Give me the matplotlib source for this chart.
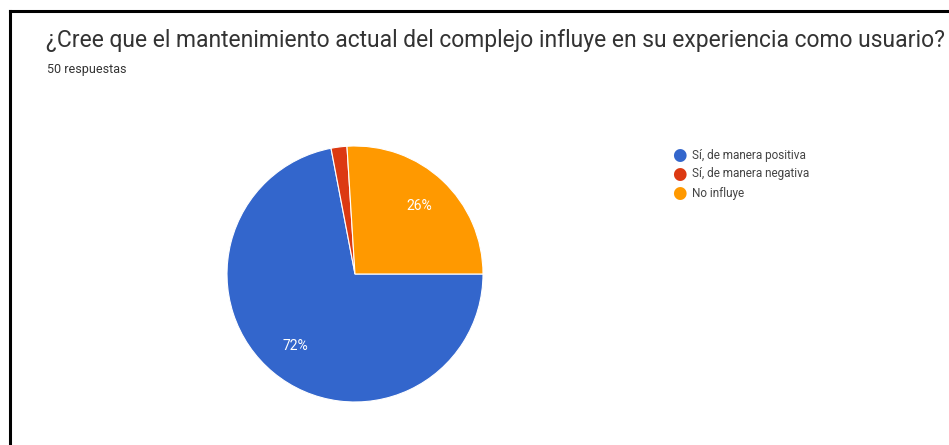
import matplotlib.pyplot as plt
from matplotlib.lines import Line2D

plt.rcParams['font.family'] = ['Roboto', 'DejaVu Sans']

# survey answers (50 responses)
labels = ['Sí, de manera positiva', 'Sí, de manera negativa', 'No influye']
counts = [36, 1, 13]
colors = ['#3366cc', '#dc3912', '#ff9900']

title = '¿Cree que el mantenimiento actual del complejo influye en su experiencia como usuario?'
subtitle = '50 respuestas'

W, H = 949, 445
fig = plt.figure(figsize=(W / 100, H / 100), dpi=100)
fig.patch.set_facecolor('white')

# frame lines (left and top)
fig.add_artist(Line2D([10 / W, 10 / W], [0, 1 - 10.5 / H], color='black', lw=2.2))
fig.add_artist(Line2D([10 / W, 1], [1 - 10.5 / H, 1 - 10.5 / H], color='black', lw=2.2))

fig.text(46 / W, 1 - 40 / H, title, fontsize=16.5, color='#333333', va='center', ha='left')
fig.text(47 / W, 1 - 70 / H, subtitle, fontsize=9, color='#333333', va='center', ha='left')

# pie
cx, cy, r = 355, 274, 128
ax = fig.add_axes([(cx - r) / W, (H - cy - r) / H, 2 * r / W, 2 * r / H])


def pct(p):
    return f'{p:.0f}%' if p >= 5 else ''


wedges, texts, autotexts = ax.pie(
    counts, colors=colors, startangle=0, counterclock=False,
    autopct=pct, pctdistance=0.73,
    wedgeprops=dict(edgecolor='white', linewidth=0.8),
    textprops=dict(color='white', fontsize=10))
ax.set_xlim(-1, 1)
ax.set_ylim(-1, 1)

# legend
for i, (lab, col) in enumerate(zip(labels, colors)):
    y = 1 - (155 + i * 19) / H
    fig.text(679 / W, y, '\u25CF', fontsize=12, color=col, va='center', ha='center',
             family='DejaVu Sans')
    fig.text(692 / W, y, lab, fontsize=8.5, color='#444444', va='center', ha='left')

plt.savefig('out.png', dpi=100)
